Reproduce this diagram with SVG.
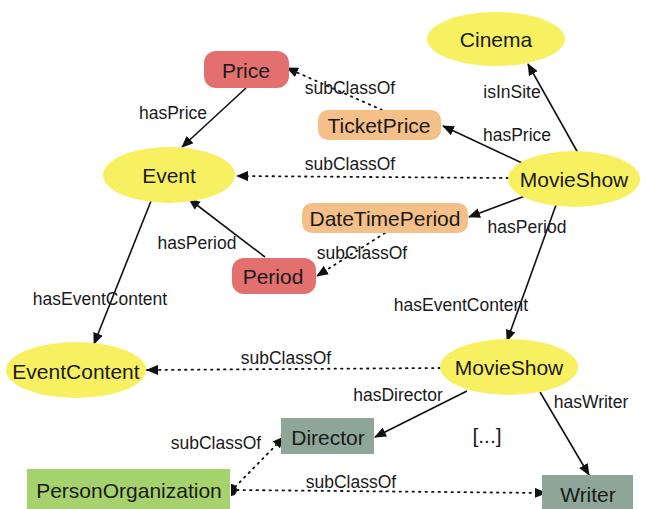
<svg xmlns="http://www.w3.org/2000/svg" width="646" height="509" viewBox="0 0 646 509">
<style>
.n{font-family:"Liberation Sans",Arial,sans-serif;font-size:21px;fill:#1a1a1a;text-anchor:middle;dominant-baseline:central}
.l{font-family:"Liberation Sans",Arial,sans-serif;font-size:17.5px;fill:#1a1a1a;text-anchor:middle;dominant-baseline:central}
.y{fill:#f7f060}
.r{fill:#e36f6f}
.o{fill:#f4bf88}
.g{fill:#8ea697}
.lg{fill:#a6d26e}
.e{stroke:#111;stroke-width:1.6;fill:none;marker-end:url(#a)}
.d{stroke:#111;stroke-width:1.8;fill:none;stroke-dasharray:1.5 5;stroke-linecap:round;marker-end:url(#a)}
</style>
<defs>
<marker id="a" viewBox="0 0 12 10" refX="11" refY="5" markerWidth="12" markerHeight="10" markerUnits="userSpaceOnUse" orient="auto">
<path d="M0,0 L12,5 L0,10 z" fill="#111"/>
</marker>
</defs>
<rect width="646" height="509" fill="#fff"/>
<g id="connectors">
<line class="e" x1="246" y1="88" x2="182" y2="147"/>
<line class="d" x1="382" y1="110" x2="287" y2="68"/>
<line class="e" x1="522" y1="163" x2="443" y2="126"/>
<line class="d" x1="508" y1="178" x2="237" y2="176"/>
<line class="e" x1="578" y1="153" x2="528" y2="64"/>
<line class="e" x1="525" y1="196" x2="469" y2="217"/>
<line class="d" x1="385" y1="233" x2="317" y2="276"/>
<line class="e" x1="265" y1="257" x2="189" y2="199"/>
<line class="e" x1="151" y1="201" x2="94" y2="344"/>
<line class="e" x1="556" y1="205" x2="507" y2="341"/>
<line class="d" x1="440" y1="368" x2="147" y2="370"/>
<line class="e" x1="467" y1="391" x2="375" y2="437"/>
<line class="e" x1="540" y1="392" x2="589" y2="475"/>
<line class="d" x1="235" y1="487" x2="284" y2="437"/>
<line class="d" x1="237" y1="490" x2="546" y2="493"/>
<text class="l" x="173" y="113">hasPrice</text>
<text class="l" x="350" y="88">subClassOf</text>
<text class="l" x="517" y="135">hasPrice</text>
<text class="l" x="350" y="164">subClassOf</text>
<text class="l" x="512" y="92">isInSite</text>
<text class="l" x="527" y="227">hasPeriod</text>
<text class="l" x="362" y="253">subClassOf</text>
<text class="l" x="197" y="243">hasPeriod</text>
<text class="l" x="100" y="299">hasEventContent</text>
<text class="l" x="461" y="305">hasEventContent</text>
<text class="l" x="286" y="358">subClassOf</text>
<text class="l" x="398" y="395">hasDirector</text>
<text class="l" x="591" y="402">hasWriter</text>
<text class="l" x="216" y="443">subClassOf</text>
<text class="l" x="351" y="482">subClassOf</text>
</g>
<g id="Cinema"><ellipse class="y" cx="496" cy="39" rx="69" ry="27"/><text class="n" x="496" y="39">Cinema</text></g>
<g id="Price"><rect class="r" x="204" y="51" width="85" height="37" rx="12"/><text class="n" x="246" y="70">Price</text></g>
<g id="TicketPrice"><rect class="o" x="318" y="110" width="123" height="30" rx="10"/><text class="n" x="379" y="125">TicketPrice</text></g>
<g id="Event"><ellipse class="y" cx="169" cy="175" rx="66" ry="28"/><text class="n" x="169" y="175">Event</text></g>
<g id="MovieShow1"><ellipse class="y" cx="574" cy="179" rx="66" ry="28"/><text class="n" x="574" y="179">MovieShow</text></g>
<g id="DateTimePeriod"><rect class="o" x="302" y="203" width="166" height="30" rx="10"/><text class="n" x="385" y="218">DateTimePeriod</text></g>
<g id="Period"><rect class="r" x="232" y="258" width="84" height="36" rx="12"/><text class="n" x="273" y="276">Period</text></g>
<g id="EventContent"><ellipse class="y" cx="76" cy="370" rx="70" ry="28"/><text class="n" x="76" y="371">EventContent</text></g>
<g id="MovieShow2"><ellipse class="y" cx="509" cy="367" rx="69" ry="28"/><text class="n" x="509" y="367">MovieShow</text></g>
<g id="Director"><rect class="g" x="281" y="418" width="93" height="36"/><text class="n" x="328" y="437">Director</text></g>
<g id="PersonOrganization"><rect class="lg" x="27" y="469" width="203" height="42"/><text class="n" x="129" y="490">PersonOrganization</text><path d="M231,484 A6,6 0 0 1 231,496 z" fill="#111"/></g>
<g id="Writer"><rect class="g" x="542" y="475" width="91" height="36"/><text class="n" x="588" y="494">Writer</text></g>
<g id="ellipsis"><text class="n" x="487" y="435">[...]</text></g>
</svg>
